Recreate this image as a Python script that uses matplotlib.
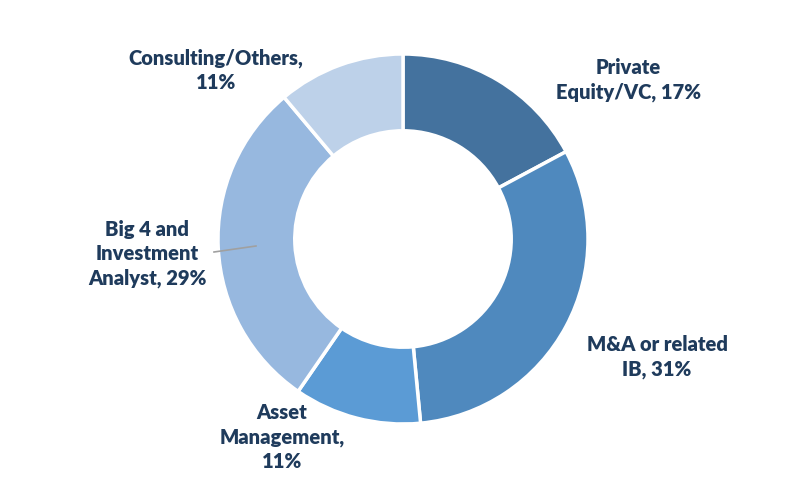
import matplotlib
matplotlib.use("Agg")
import matplotlib.pyplot as plt

shares = [17, 31, 11, 29, 11]
colors = ["#44729E", "#4F89BE", "#5B9BD5", "#97B8DF", "#BDD1E9"]
label_text = ["Private\nEquity/VC, 17%", "M&A or related\nIB, 31%",
              "Asset\nManagement,\n11%", "Big 4 and\nInvestment\nAnalyst, 29%",
              "Consulting/Others,\n11%"]
# label centres in pixel space (x, y from top)
label_pos = [(628, 80), (657, 357), (282, 437), (147, 254), (216, 70)]

W, H = 806, 480
fig = plt.figure(figsize=(W / 100, H / 100), dpi=100)
ax = fig.add_axes([0, 0, 1, 1])

cx, cy, r = 403, H - 239, 185
ax.pie(shares, colors=colors, startangle=90, counterclock=False,
       center=(cx, cy), radius=r, frame=True,
       wedgeprops=dict(width=r * 0.415, edgecolor="white", linewidth=2.5))
ax.set_xlim(0, W)
ax.set_ylim(0, H)
ax.set_aspect("equal")
ax.axis("off")

for txt, (x, y) in zip(label_text, label_pos):
    ax.text(x, H - y, txt, ha="center", va="center", fontsize=14.5,
            fontweight="heavy", color="#1F3B5C", family=["Lato", "DejaVu Sans"],
            linespacing=1.3)

# leader line for the Big 4 label
ax.plot([214, 256], [H - 252, H - 246], color="#A0A0A0", lw=1.2)

fig.savefig("out.png", dpi=100, facecolor="white")
